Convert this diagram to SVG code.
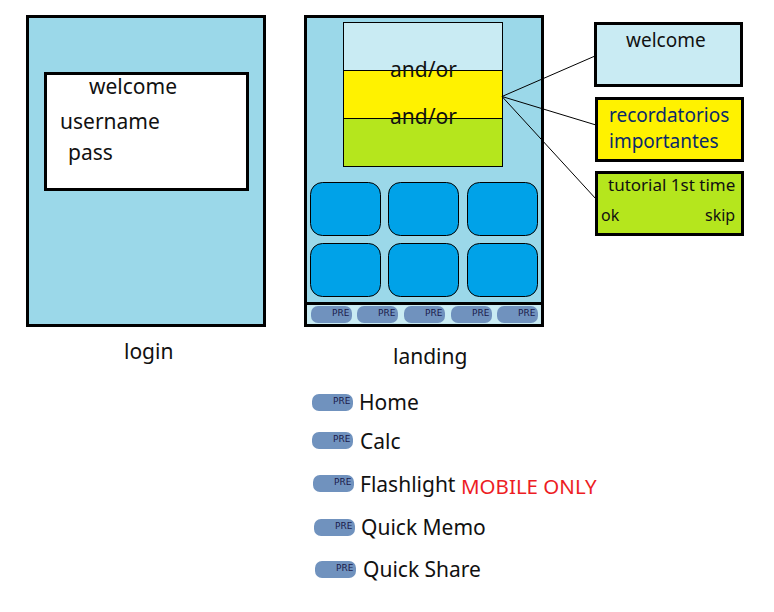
<svg xmlns="http://www.w3.org/2000/svg" width="774" height="612" viewBox="0 0 774 612">
<style>
text{font-family:"Noto Sans","Open Sans","DejaVu Sans",sans-serif;fill:#111;font-size:21px}
.s{font-size:19px}
.t{font-size:17px}
.k{font-size:16px}
.blue{fill:#0a2a6a}
.frame{fill:#9bd8e9;stroke:#000;stroke-width:3}
.band{stroke:#000;stroke-width:1}
.box{stroke:#000;stroke-width:3}
.tile{fill:#00a2e8;stroke:#000;stroke-width:1}
.pill{fill:#7092be}
.pre{font-size:9px;fill:#1a1a4a;font-family:"DejaVu Sans",sans-serif}
.link{stroke:#000;stroke-width:1;fill:none}
.red{fill:#ed1c24;font-size:20.5px}
</style>
<defs>
<g id="btn"><rect class="pill" x="0" y="0" width="41" height="17" rx="7"/><text class="pre" x="21" y="10">PRE</text></g>
</defs>
<g id="login">
<rect class="frame" x="27.500" y="16.500" width="237" height="309"/>
<rect x="45.500" y="73.500" width="202" height="116" fill="#fff" stroke="#000" stroke-width="3"/>
<text x="89" y="93.500">welcome</text>
<text x="60" y="128.500">username</text>
<text x="68" y="159.500">pass</text>
<text x="124" y="358.500">login</text>
</g>
<g id="landing">
<rect class="frame" x="305.500" y="16.500" width="237" height="309"/>
<rect class="band" x="343.500" y="22.500" width="159" height="48" fill="#c9ebf3"/>
<rect class="band" x="343.500" y="70.500" width="159" height="48" fill="#fff200"/>
<rect class="band" x="343.500" y="118.500" width="159" height="48" fill="#b5e61d"/>
<text x="390" y="76.500">and/or</text>
<text x="390" y="123.500">and/or</text>
<rect class="tile" x="310.500" y="182.500" width="70" height="53" rx="12"/>
<rect class="tile" x="388.500" y="182.500" width="70" height="53" rx="12"/>
<rect class="tile" x="467.500" y="182.500" width="70" height="53" rx="12"/>
<rect class="tile" x="310.500" y="243.500" width="70" height="53" rx="12"/>
<rect class="tile" x="388.500" y="243.500" width="70" height="53" rx="12"/>
<rect class="tile" x="467.500" y="243.500" width="70" height="53" rx="12"/>
<rect x="305.500" y="303.500" width="237" height="22" fill="#c9ebf3" stroke="#000" stroke-width="3"/>
<use href="#btn" x="311" y="306"/>
<use href="#btn" x="357" y="306"/>
<use href="#btn" x="404" y="306"/>
<use href="#btn" x="451" y="306"/>
<use href="#btn" x="497" y="306"/>
<text x="393" y="363.500">landing</text>
</g>
<g id="connectors">
<path class="link" d="M502 96.500L595 56M502 96.500L596 125M502 96.500L596 199"/>
</g>
<g id="note-welcome">
<rect class="box" x="595.500" y="23.500" width="146" height="62" fill="#c9ebf3"/>
<text class="s" x="626" y="47">welcome</text>
</g>
<g id="note-recordatorios">
<rect class="box" x="596.500" y="98.500" width="146" height="62" fill="#fff200"/>
<text class="s blue" x="609" y="122">recordatorios</text>
<text class="s blue" x="609" y="148">importantes</text>
</g>
<g id="note-tutorial">
<rect class="box" x="596.500" y="172.500" width="146" height="62" fill="#b5e61d"/>
<text class="t" x="608" y="191">tutorial 1st time</text>
<text class="k" x="601" y="221">ok</text>
<text class="k" x="705" y="221">skip</text>
</g>
<g id="legend-home"><use href="#btn" x="312" y="394"/><text x="359" y="409.500">Home</text></g>
<g id="legend-calc"><use href="#btn" x="312" y="432"/><text x="360" y="448.500">Calc</text></g>
<g id="legend-flashlight"><use href="#btn" x="313" y="475"/><text x="360" y="491.500">Flashlight</text><text class="red" x="461" y="494">MOBILE ONLY</text></g>
<g id="legend-memo"><use href="#btn" x="314" y="519"/><text x="361" y="534.500">Quick Memo</text></g>
<g id="legend-share"><use href="#btn" x="315" y="561"/><text x="363" y="576.500">Quick Share</text></g>
</svg>
